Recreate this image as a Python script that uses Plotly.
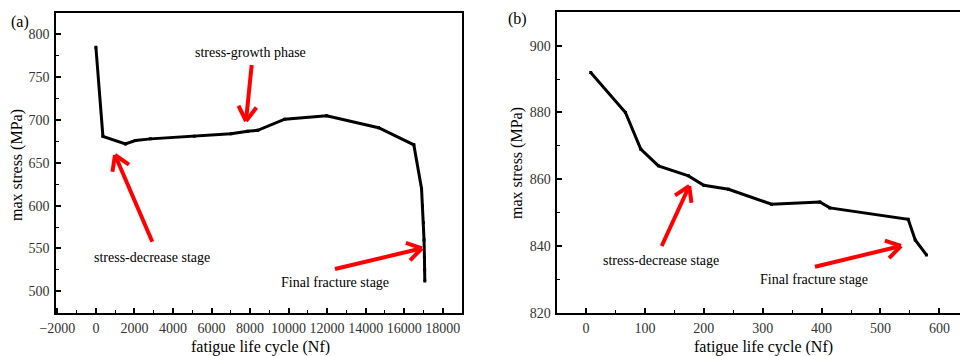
import math
import plotly.graph_objects as go

# ---------------- data ----------------
cycles_a = [0, 365, 1530, 2050, 2835, 5100, 7010, 7880, 8400, 9800, 11975, 14670,
            16500, 16900, 16950, 17000, 17030, 17050, 17060, 17070]
stress_a = [785, 681, 672, 676, 678, 681, 684, 687, 688, 701, 705, 691,
            671, 620, 600, 580, 560, 540, 525, 512]

cycles_b = [8, 67, 93, 123, 174, 200, 242, 315, 397, 414, 547, 559, 578]
stress_b = [892, 880, 869, 864, 861, 858.2, 857, 852.5, 853.2, 851.4, 848, 841.8, 837.3]

xticks_a = list(range(-2000, 18001, 2000))
yticks_a = list(range(500, 801, 50))
xticks_b = list(range(0, 601, 100))
yticks_b = list(range(820, 901, 20))

# ---------------- figure ----------------
W, H = 960, 356
FONT = "Liberation Serif"

def px(x):
    return x / W

def py(y):
    return 1 - y / H

fig = go.Figure()
fig.add_trace(go.Scatter(x=cycles_a, y=stress_a, mode="lines+markers",
                         line=dict(color="black", width=3),
                         marker=dict(symbol="square", size=3, color="black"),
                         xaxis="x", yaxis="y", showlegend=False))
fig.add_trace(go.Scatter(x=cycles_b, y=stress_b, mode="lines+markers",
                         line=dict(color="black", width=3),
                         marker=dict(symbol="square", size=3, color="black"),
                         xaxis="x2", yaxis="y2", showlegend=False))

def axis(domain, rng, tickvals, minor_dtick, anchor, mirror=True):
    return dict(domain=domain, range=rng, tickvals=tickvals,
                ticktext=[("\u2212" + str(-v)) if v < 0 else str(v) for v in tickvals],
                ticks="inside", automargin=False,
                ticklen=5, tickwidth=1.5, tickcolor="black",
                minor=dict(dtick=minor_dtick, ticks="inside", ticklen=3,
                           tickwidth=1.2, tickcolor="black", showgrid=False),
                showline=True, linecolor="black", linewidth=1.5, mirror=mirror,
                showgrid=False, zeroline=False, anchor=anchor,
                ticklabelstandoff=2,
                tickfont=dict(family=FONT, size=14, color="#333333"))

ydom_a = [py(312.7), py(13)]
ydom_b = [py(312.7), py(12)]

fig.update_layout(
    template="none",
    font=dict(family=FONT),
    width=W, height=H, margin=dict(l=0, r=0, t=0, b=0, pad=0),
    paper_bgcolor="white", plot_bgcolor="white",
    xaxis=axis([px(56), px(462)], [-2070, 19000], xticks_a, 1000, "y"),
    yaxis=axis(ydom_a, [475, 825], yticks_a, 25, "x"),
    xaxis2=axis([px(557.3), 1.0], [-48.7, 635], xticks_b, 50, "y2"),
    yaxis2=axis(ydom_b, [820, 910.1], yticks_b, 10, "x2", mirror=False),
)

anns = []
def text(x, y, s, size=14, angle=0):
    anns.append(dict(x=px(x), y=py(y), xref="paper", yref="paper", text=s,
                     showarrow=False, textangle=angle,
                     font=dict(family=FONT, size=size, color="black"),
                     xanchor="center", yanchor="middle"))

# panel labels
text(20, 22, "(a)", 16)
text(517, 19, "(b)", 16)
# axis titles
text(260, 347, "fatigue life cycle (Nf)", 16)
text(763, 347, "fatigue life cycle (Nf)", 16)
text(17, 165, "max stress (MPa)", 16, -90)
text(517, 163, "max stress (MPa)", 16, -90)
# stage labels
text(250, 53, "stress-growth phase")
text(152, 257, "stress-decrease stage")
text(335, 282, "Final fracture stage")
text(661, 260, "stress-decrease stage")
text(814, 279, "Final fracture stage")

shapes = []
def arrow(x0, y0, x1, y1, L=17, ang=32):
    dx, dy = x1 - x0, y1 - y0
    n = math.hypot(dx, dy)
    ux, uy = dx / n, dy / n
    segs = [(x0, y0, x1, y1)]
    for s in (1, -1):
        a = math.radians(ang) * s
        rx = ux * math.cos(a) - uy * math.sin(a)
        ry = ux * math.sin(a) + uy * math.cos(a)
        segs.append((x1 - L * rx, y1 - L * ry, x1, y1))
    for (a0, b0, a1, b1) in segs:
        shapes.append(dict(type="line", xref="paper", yref="paper",
                           x0=px(a0), y0=py(b0), x1=px(a1), y1=py(b1),
                           line=dict(color="#ff0000", width=4)))

arrow(251.7, 65, 246, 121)
arrow(152.3, 241.7, 115, 155)
arrow(335, 269, 422, 248.3)
arrow(661.7, 246, 689.3, 186)
arrow(815, 266.7, 901, 246)

fig.update_layout(annotations=anns, shapes=shapes)
fig.write_html("out.html")
